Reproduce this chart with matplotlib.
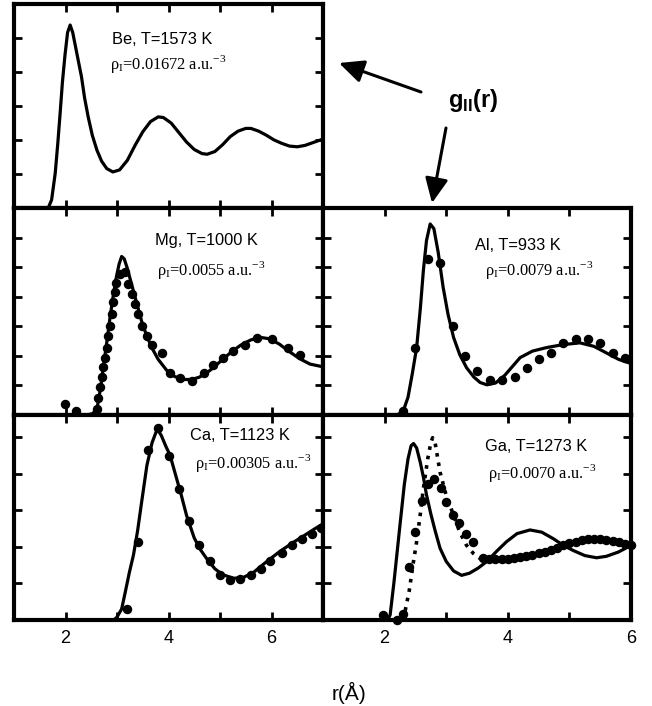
import numpy as np
import matplotlib
matplotlib.use("Agg")
import matplotlib.pyplot as plt
from matplotlib.patches import FancyArrowPatch

plt.rcParams['font.family'] = 'Liberation Sans'
plt.rcParams['mathtext.fontset'] = 'custom'
plt.rcParams['mathtext.rm'] = 'Liberation Serif'
plt.rcParams['mathtext.bf'] = 'Liberation Sans:bold'

# ------------------
# data (r in Angstrom, g(r))
# ------------------
be_r = [1.60, 1.67, 1.73, 1.80, 1.85, 1.89, 1.94, 1.99, 2.04, 2.09, 2.14, 2.20, 2.26, 2.31,
        2.37, 2.44, 2.52, 2.61, 2.70, 2.80, 2.92, 3.05, 3.20, 3.35, 3.50, 3.65, 3.80, 3.90,
        4.05, 4.20, 4.35, 4.50, 4.65, 4.75, 4.90, 5.05, 5.20, 5.35, 5.50, 5.60, 5.75, 5.90,
        6.05, 6.20, 6.35, 6.50, 6.65, 6.80, 6.95]
be_g = [0.00, 0.01, 0.12, 0.51, 0.95, 1.34, 1.85, 2.25, 2.58, 2.69, 2.58, 2.35, 2.12, 1.93,
        1.62, 1.34, 1.07, 0.85, 0.69, 0.58, 0.53, 0.56, 0.70, 0.92, 1.12, 1.27, 1.34, 1.33,
        1.25, 1.11, 0.97, 0.86, 0.80, 0.79, 0.83, 0.93, 1.05, 1.13, 1.17, 1.17, 1.13, 1.07,
        1.00, 0.95, 0.91, 0.90, 0.92, 0.96, 1.00]

mg_r = [2.40, 2.52, 2.58, 2.62, 2.68, 2.74, 2.80, 2.86, 2.92, 2.98, 3.04, 3.09, 3.14, 3.20,
        3.28, 3.38, 3.48, 3.58, 3.68, 3.80, 3.96, 4.12, 4.30, 4.45, 4.60, 4.80, 5.00, 5.20,
        5.40, 5.60, 5.80, 5.95, 6.15, 6.35, 6.55, 6.75, 6.97]
mg_g = [0.00, 0.02, 0.07, 0.15, 0.45, 0.85, 1.22, 1.62, 1.98, 2.30, 2.55, 2.68, 2.64, 2.48,
        2.22, 1.90, 1.58, 1.33, 1.13, 0.94, 0.76, 0.65, 0.60, 0.60, 0.64, 0.75, 0.90, 1.05,
        1.18, 1.27, 1.31, 1.29, 1.20, 1.07, 0.95, 0.86, 0.82]
mg_exp_r = [1.99, 2.20, 2.61, 2.64, 2.67, 2.70, 2.73, 2.77, 2.80, 2.83, 2.86, 2.90, 2.93, 2.96,
            2.99, 3.06, 3.16, 3.22, 3.29, 3.35, 3.41, 3.48, 3.58, 3.67, 3.87, 4.03, 4.22, 4.45,
            4.68, 4.87, 5.06, 5.26, 5.49, 5.71, 6.00, 6.33, 6.55]
mg_exp_g = [0.18, 0.07, 0.10, 0.28, 0.47, 0.65, 0.81, 0.97, 1.14, 1.34, 1.51, 1.71, 1.91, 2.08,
            2.23, 2.38, 2.42, 2.22, 2.05, 1.88, 1.71, 1.51, 1.34, 1.19, 1.05, 0.71, 0.63, 0.58,
            0.71, 0.84, 0.97, 1.08, 1.19, 1.31, 1.28, 1.13, 1.01]

al_r = [2.20, 2.30, 2.38, 2.45, 2.52, 2.58, 2.63, 2.68, 2.74, 2.80, 2.87, 2.95, 3.03, 3.12,
        3.22, 3.33, 3.45, 3.55, 3.66, 3.80, 3.95, 4.10, 4.20, 4.40, 4.63, 4.90, 5.17, 5.40,
        5.60, 5.80, 6.00]
al_g = [0.00, 0.06, 0.30, 0.70, 1.14, 1.80, 2.45, 2.95, 3.23, 3.15, 2.75, 2.16, 1.70, 1.31,
        1.02, 0.80, 0.64, 0.55, 0.51, 0.54, 0.67, 0.85, 0.97, 1.08, 1.14, 1.19, 1.22, 1.16,
        1.05, 0.94, 0.87]
al_exp_r = [2.30, 2.50, 2.70, 2.90, 3.11, 3.31, 3.50, 3.71, 3.91, 4.11, 4.31, 4.51, 4.70, 4.90,
            5.10, 5.30, 5.50, 5.70, 5.90]
al_exp_g = [0.07, 1.13, 2.63, 2.57, 1.51, 1.00, 0.74, 0.60, 0.60, 0.65, 0.80, 0.95, 1.05, 1.21,
            1.28, 1.28, 1.21, 1.05, 0.97]

ca_r = [2.94, 3.00, 3.09, 3.16, 3.24, 3.32, 3.40, 3.48, 3.58, 3.68, 3.76, 3.80, 3.86, 3.95,
        4.03, 4.15, 4.25, 4.35, 4.50, 4.62, 4.74, 4.90, 5.05, 5.26, 5.45, 5.65, 5.91, 6.15,
        6.40, 6.65, 6.85, 6.97]
ca_g = [0.00, 0.04, 0.15, 0.38, 0.65, 0.89, 1.22, 1.62, 2.11, 2.42, 2.57, 2.59, 2.52, 2.37,
        2.25, 1.95, 1.70, 1.43, 1.12, 0.96, 0.84, 0.70, 0.62, 0.57, 0.58, 0.65, 0.80, 0.93,
        1.05, 1.16, 1.25, 1.30]
ca_exp_r = [3.19, 3.40, 3.61, 3.80, 4.00, 4.20, 4.40, 4.60, 4.81, 5.00, 5.19, 5.39, 5.60, 5.79,
            5.98, 6.20, 6.39, 6.59, 6.78, 6.97]
ca_exp_g = [0.15, 1.07, 2.32, 2.62, 2.24, 1.79, 1.35, 1.02, 0.80, 0.61, 0.55, 0.56, 0.62, 0.70,
            0.80, 0.91, 1.02, 1.11, 1.18, 1.25]

ga_r = [2.05, 2.09, 2.15, 2.20, 2.25, 2.32, 2.38, 2.43, 2.47, 2.52, 2.58, 2.63, 2.68, 2.75,
        2.82, 2.90, 3.00, 3.12, 3.25, 3.38, 3.52, 3.66, 3.82, 3.98, 4.15, 4.36, 4.55, 4.74,
        4.90, 5.06, 5.25, 5.44, 5.60, 5.80, 6.00]
ga_g = [0.00, 0.07, 0.50, 0.90, 1.30, 1.85, 2.20, 2.38, 2.41, 2.35, 2.15, 1.95, 1.71, 1.45,
        1.22, 0.98, 0.80, 0.67, 0.61, 0.64, 0.71, 0.80, 0.94, 1.07, 1.18, 1.23, 1.20, 1.11,
        1.02, 0.95, 0.88, 0.85, 0.87, 0.93, 1.02]
ga_dot_r = [2.30, 2.33, 2.40, 2.46, 2.52, 2.58, 2.63, 2.70, 2.75, 2.78, 2.82, 2.86, 2.90, 3.00,
            3.12, 3.22, 3.33, 3.44, 3.55, 3.65, 3.76, 4.00, 4.50, 5.00, 5.50, 6.00]
ga_dot_g = [0.00, 0.11, 0.40, 0.75, 1.07, 1.45, 1.80, 2.20, 2.42, 2.49, 2.42, 2.22, 2.02, 1.70,
            1.43, 1.20, 1.02, 0.91, 0.84, 0.81, 0.80, 0.83, 0.91, 1.04, 1.10, 1.03]
ga_exp_r = [1.98, 2.20, 2.30, 2.40, 2.50, 2.60, 2.71, 2.80, 2.91, 3.00, 3.11, 3.21, 3.32, 3.43,
            3.60, 3.70, 3.80, 3.90, 4.00, 4.10, 4.20, 4.30, 4.40, 4.50, 4.60, 4.70, 4.80,
            4.90, 5.00, 5.10, 5.20, 5.30, 5.40, 5.50, 5.60, 5.70, 5.80, 5.90, 6.00]
ga_exp_g = [0.07, 0.00, 0.08, 0.73, 1.20, 1.62, 1.86, 1.93, 1.80, 1.61, 1.43, 1.32, 1.18, 1.07,
            0.85, 0.83, 0.83, 0.83, 0.84, 0.85, 0.86, 0.87, 0.89, 0.91, 0.93, 0.96, 0.99,
            1.02, 1.05, 1.07, 1.09, 1.10, 1.10, 1.10, 1.09, 1.08, 1.06, 1.04, 1.03]

fig = plt.figure(figsize=(6.52, 7.06), dpi=100)


def make_ax(rect, xmax, ymax, labels=False):
    ax = fig.add_axes(rect)
    ax.set_xlim(1, xmax)
    ax.set_ylim(0, ymax)
    ax.set_xticks(range(1, xmax + 1))
    ax.set_yticks(np.arange(0.5, ymax, 0.5))
    ax.tick_params(direction='in', top=True, right=True, length=6, width=2,
                   labelleft=False, labelbottom=labels, labelsize=13, pad=7)
    if labels:
        ax.set_xticklabels([str(v) if v % 2 == 0 else '' for v in range(1, xmax + 1)])
    for s in ax.spines.values():
        s.set_linewidth(3)
    return ax


def label(ax, x, y1, y2, head, rho):
    ax.text(x[0], y1, head, transform=ax.transAxes, fontsize=11.8, va='center')
    ax.text(x[1], y2, 'ρ$_{\\rm I}$=' + rho + ' a.u.$^{-3}$', transform=ax.transAxes,
            fontsize=11.8, va='center', family='Liberation Serif')


ax_be = make_ax([0.0215, 0.7054, 0.4739, 0.2890], 7, 3.0)
ax_mg = make_ax([0.0215, 0.4122, 0.4739, 0.2932], 7, 3.5)
ax_al = make_ax([0.4954, 0.4122, 0.4724, 0.2932], 6, 3.5)
ax_ca = make_ax([0.0215, 0.1218, 0.4739, 0.2904], 7, 2.8, labels=True)
ax_ga = make_ax([0.4954, 0.1218, 0.4724, 0.2904], 6, 2.8, labels=True)

lw = 2.3
ms = 5.8
ax_be.plot(be_r, be_g, 'k-', lw=lw)
ax_mg.plot(mg_r, mg_g, 'k-', lw=lw)
ax_mg.plot(mg_exp_r, mg_exp_g, 'ko', ms=ms, clip_on=False)
ax_al.plot(al_r, al_g, 'k-', lw=lw)
ax_al.plot(al_exp_r, al_exp_g, 'ko', ms=ms, clip_on=False)
ax_ca.plot(ca_r, ca_g, 'k-', lw=lw)
ax_ca.plot(ca_exp_r, ca_exp_g, 'ko', ms=ms, clip_on=False)
ax_ga.plot(ga_r, ga_g, 'k-', lw=lw)
ax_ga.plot(ga_dot_r, ga_dot_g, 'k:', lw=2.6)
ax_ga.plot(ga_exp_r, ga_exp_g, 'ko', ms=ms, clip_on=False)

label(ax_be, (0.317, 0.311), 0.828, 0.706, 'Be, T=1573 K', '0.01672')
label(ax_mg, (0.456, 0.463), 0.845, 0.700, 'Mg, T=1000 K', '0.0055')
label(ax_al, (0.494, 0.526), 0.821, 0.700, 'Al, T=933 K', '0.0079')
label(ax_ca, (0.570, 0.586), 0.902, 0.766, 'Ca, T=1123 K', '0.00305')
label(ax_ga, (0.526, 0.536), 0.844, 0.717, 'Ga, T=1273 K', '0.0070')

# g_II(r) pointer
fig.text(448 / 652, 1 - 100 / 706, 'g$_{\\bf II}$(r)', fontsize=17, fontweight='bold',
         va='center', ha='left')
for tail, tip in [((421, 92), (339, 63)), ((446, 128), (432, 203))]:
    arr = FancyArrowPatch((tail[0] / 652, 1 - tail[1] / 706), (tip[0] / 652, 1 - tip[1] / 706),
                          transform=fig.transFigure, arrowstyle='-|>,head_length=0.75,head_width=0.35',
                          mutation_scale=20, lw=2.2, color='k', shrinkA=0, shrinkB=0)
    fig.add_artist(arr)

fig.text(349 / 652, 1 - 693 / 706, 'r(Å)', fontsize=15, ha='center', va='center')

plt.savefig('out.png', dpi=100)
